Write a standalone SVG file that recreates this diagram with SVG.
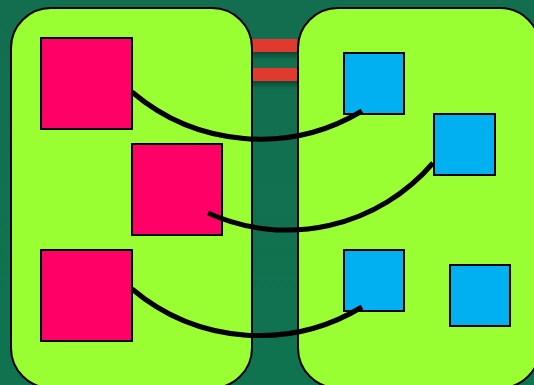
<svg xmlns="http://www.w3.org/2000/svg" width="534" height="385" viewBox="0 0 534 385">
<defs>
<linearGradient id="bg" x1="0" y1="0" x2="0" y2="1">
<stop offset="0" stop-color="#136e4f"/>
<stop offset="1" stop-color="#0f7350"/>
</linearGradient>
<filter id="sh" x="-20%" y="-50%" width="140%" height="250%">
<feGaussianBlur stdDeviation="2"/>
</filter>
<style>
.panel{fill:#99ff33;stroke:#000;stroke-width:2}
.pink{fill:#ff0066;stroke:#000;stroke-width:2}
.blue{fill:#00b0f0;stroke:#000;stroke-width:2}
.bar{fill:#e0392f}
.conn{fill:none;stroke:#000;stroke-width:5}
</style>
</defs>
<rect x="0" y="0" width="534" height="385" fill="url(#bg)"/>
<g id="bars">
<rect x="250" y="43" width="50" height="13" fill="#0a4a33" filter="url(#sh)"/>
<rect x="250" y="72" width="50" height="13" fill="#0a4a33" filter="url(#sh)"/>
<rect class="bar" x="250" y="39" width="50" height="13"/>
<rect class="bar" x="250" y="68" width="50" height="13"/>
</g>
<g id="left-panel"><rect class="panel" x="11" y="8" width="241" height="380" rx="40"/></g>
<g id="right-panel"><rect class="panel" x="298" y="8" width="242" height="380" rx="40"/></g>
<g id="pink1"><rect class="pink" x="41" y="38" width="91" height="91"/></g>
<g id="pink2"><rect class="pink" x="132" y="144" width="90" height="91"/></g>
<g id="pink3"><rect class="pink" x="41" y="250" width="91" height="91"/></g>
<g id="blue1"><rect class="blue" x="344" y="53" width="60" height="61"/></g>
<g id="blue2"><rect class="blue" x="434" y="114" width="61" height="61"/></g>
<g id="blue3"><rect class="blue" x="344" y="250" width="60" height="61"/></g>
<g id="blue4"><rect class="blue" x="450" y="265" width="60" height="61"/></g>
<g id="connectors">
<path class="conn" d="M132,92 A198,198 0 0 0 362,111"/>
<path class="conn" d="M208,213 A192,192 0 0 0 433,163"/>
<path class="conn" d="M132,289 A198,198 0 0 0 362,307"/>
</g>
</svg>
